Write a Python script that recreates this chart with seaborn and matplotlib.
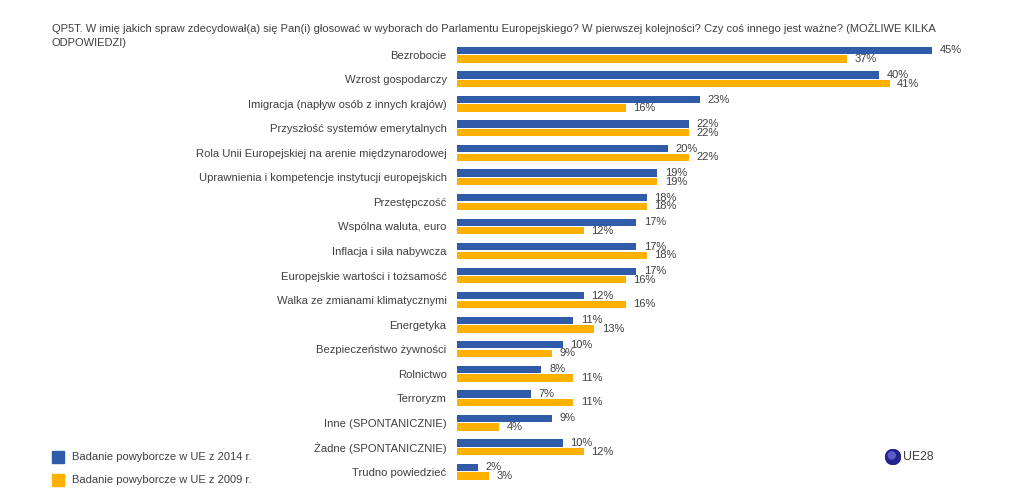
import pandas as pd
import seaborn as sns
import matplotlib.pyplot as plt

categories = ['Bezrobocie', 'Wzrost gospodarczy', 'Imigracja (napływ osób z innych krajów)',
              'Przyszłość systemów emerytalnych', 'Rola Unii Europejskiej na arenie międzynarodowej',
              'Uprawnienia i kompetencje instytucji europejskich', 'Przestępczość', 'Wspólna waluta, euro',
              'Inflacja i siła nabywcza', 'Europejskie wartości i tożsamość', 'Walka ze zmianami klimatycznymi',
              'Energetyka', 'Bezpieczeństwo żywności', 'Rolnictwo', 'Terroryzm', 'Inne (SPONTANICZNIE)',
              'Żadne (SPONTANICZNIE)', 'Trudno powiedzieć']
values_2014 = [45, 40, 23, 22, 20, 19, 18, 17, 17, 17, 12, 11, 10, 8, 7, 9, 10, 2]
values_2009 = [37, 41, 16, 22, 22, 19, 18, 12, 18, 16, 16, 13, 9, 11, 11, 4, 12, 3]
name_2014 = 'Badanie powyborcze w UE z 2014 r.'
name_2009 = 'Badanie powyborcze w UE z 2009 r.'
title = ('QP5T. W imię jakich spraw zdecydował(a) się Pan(i) głosować w wyborach do Parlamentu Europejskiego? '
         'W pierwszej kolejności? Czy coś innego jest ważne? (MOŻLIWE KILKA\nODPOWIEDZI)')

W, H = 1024, 499
sns.set_theme(style='white')
plt.rcParams['font.family'] = ['Liberation Sans']
txt = '#404040'
blue = '#2F5BA8'
orange = '#FFB000'

df = pd.DataFrame({'cat': categories * 2,
                   'val': values_2014 + values_2009,
                   'year': [name_2014] * len(categories) + [name_2009] * len(categories)})

fig = plt.figure(figsize=(W / 100, H / 100), dpi=100)
ax = fig.add_axes([457 / W, 1 - 484 / H, 560 / W, 441.5 / H])
sns.barplot(data=df, y='cat', x='val', hue='year', palette=[blue, orange], saturation=1,
            width=0.7, gap=0.15, dodge=True, linewidth=0, ax=ax, legend=False)
ax.set_xlim(0, 560 / 10.55)
ax.set_ylim(17.5, -0.5)
ax.set_xlabel('')
ax.set_ylabel('')
ax.set_xticks([])
ax.tick_params(axis='y', length=0, pad=7.5, labelsize=8.1, labelcolor=txt)
sns.despine(ax=ax, left=True, bottom=True)

for cont in ax.containers:
    ax.bar_label(cont, fmt='%d%%', padding=5.5, fontsize=8, color=txt)

fig.text(52 / W, 1 - 35.5 / H, title, fontsize=8.05, color=txt, va='center', linespacing=1.5)

# legend
for y, name, col in [(457, name_2014, blue), (480, name_2009, orange)]:
    fig.patches.append(plt.Rectangle((52 / W, 1 - (y + 6) / H), 12 / W, 12 / H, color=col,
                                     transform=fig.transFigure))
    fig.text(72 / W, 1 - y / H, name, fontsize=8, color=txt, va='center')

# EU globe
gl = fig.add_axes([885 / W, 1 - 465 / H, 16 / W, 16 / H])
gl.axis('off')
gl.set_xlim(-1, 1)
gl.set_ylim(-1, 1)
gl.add_patch(plt.Circle((0, 0), 0.95, color='#23238E'))
gl.add_patch(plt.Circle((-0.15, 0.2), 0.45, color='#5A5AC8'))
fig.text(903 / W, 1 - 457 / H, 'UE28', fontsize=8.8, color=txt, va='center')

fig.savefig('out.png', dpi=100)
